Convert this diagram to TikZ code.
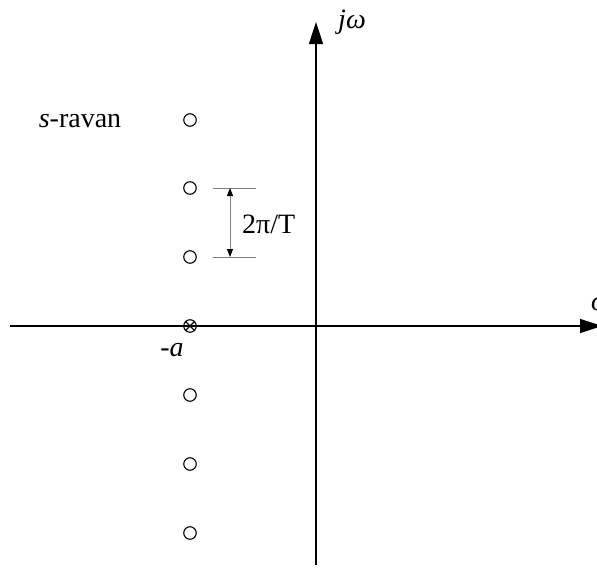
\documentclass[tikz,border=0pt]{standalone}
\usepackage{fontspec}
\setmainfont{Liberation Serif}
\usetikzlibrary{arrows.meta}
\tikzset{dimtip/.tip={Triangle[length=8pt,width=6pt,fill=black,color=black]}}
\begin{document}
\begin{tikzpicture}[x=1pt,y=-1pt,
  axis/.style={line width=1.6pt,-{Triangle[length=22pt,width=14pt]}},
  pole/.style={circle,draw,line width=1.1pt,minimum size=12.5pt,inner sep=0pt},
  dimline/.style={draw=gray,line width=0.9pt},
  lbl/.style={font=\fontsize{28}{32}\selectfont,inner sep=0pt}]
\useasboundingbox (0,0) rectangle (597,570);
\coordinate (xs) at (10,326);
\coordinate (xe) at (602,326);
\coordinate (ys) at (316,565);
\coordinate (ye) at (316,22);
\draw[axis] (xs) -- (xe);
\draw[axis] (ys) -- (ye);
\node[lbl] (jw) at (352,22) {\textit{jω}};
\node[lbl,anchor=west] (sig) at (591,303) {\textit{σ}};
\node[lbl] (sr) at (80,121) {\textit{s}-ravan};
\node[pole] (p1) at (190,120) {};
\node[pole] (p2) at (190,188) {};
\node[pole] (p3) at (190,257) {};
\node[pole] (p0) at (190,326) {};
\draw[line width=1.1pt] (p0.north east) -- (p0.south west) (p0.north west) -- (p0.south east);
\node[pole] (p4) at (190,395) {};
\node[pole] (p5) at (190,464) {};
\node[pole] (p6) at (190,533) {};
\node[lbl] (ma) at (172,350) {-\textit{a}};
\coordinate (d1a) at (213,188);
\coordinate (d1b) at (256,188);
\coordinate (d2a) at (213,257);
\coordinate (d2b) at (256,257);
\coordinate (t1) at (230,188);
\coordinate (t2) at (230,257);
\draw[dimline] (d1a) -- (d1b);
\draw[dimline] (d2a) -- (d2b);
\draw[dimline,dimtip-dimtip] (t1) -- (t2);
\node[lbl,anchor=west] (tp) at (242,224) {2π/T};
\end{tikzpicture}
\end{document}
